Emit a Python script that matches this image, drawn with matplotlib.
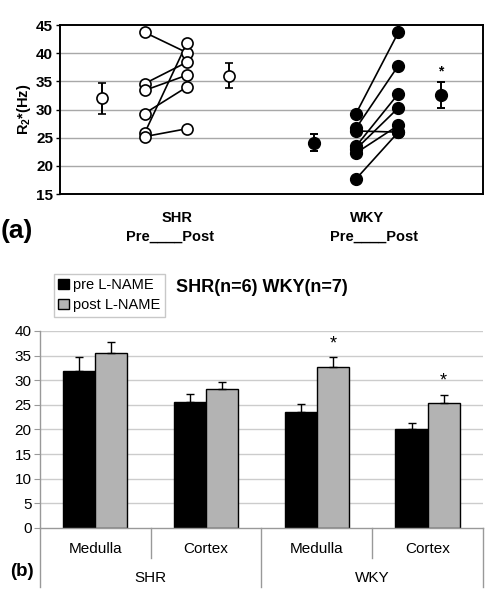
import matplotlib
matplotlib.use("Agg")
import matplotlib.pyplot as plt
import numpy as np

plt.rcParams['font.family'] = ['Liberation Sans', 'DejaVu Sans']
plt.rcParams['mathtext.fontset'] = 'custom'
plt.rcParams['mathtext.rm'] = 'Liberation Sans'
plt.rcParams['mathtext.bf'] = 'Liberation Sans:bold'

# ---- panel (a): individual R2* values, pre / post L-NAME ----
shr_pre = [43.7, 34.6, 33.4, 29.3, 25.8, 25.2]
shr_post = [40.1, 38.4, 36.1, 34.0, 41.8, 26.6]
wky_pre = [29.3, 26.7, 26.2, 23.5, 23.0, 22.3, 17.7]
wky_post = [43.7, 37.8, 26.0, 32.8, 30.3, 27.2, 26.0]

# group means +/- SEM (outer markers)
shr_mean = [32.0, 36.0]
shr_sem = [2.8, 2.2]
wky_mean = [24.1, 32.6]
wky_sem = [1.5, 2.3]

# ---- panel (b): bar chart ----
regions = ['Medulla', 'Cortex', 'Medulla', 'Cortex']
strains = ['SHR', 'WKY']
pre_vals = [31.9, 25.5, 23.6, 20.1]
pre_err = [2.8, 1.8, 1.5, 1.3]
post_vals = [35.5, 28.2, 32.6, 25.4]
post_err = [2.3, 1.5, 2.1, 1.7]
signif = [False, False, True, True]

fig = plt.figure(figsize=(4.97, 6.01), dpi=100)

# ================= (a) =================
ax1 = fig.add_axes([0.1207, 0.677, 0.851, 0.2814])
ax1.set_xlim(0, 10)
ax1.set_ylim(15, 45)
ax1.set_yticks(range(15, 46, 5))
ax1.set_xticks([])
for y in range(20, 45, 5):
    ax1.axhline(y, color='#a8a8a8', lw=1.0, zorder=0)
for s in ax1.spines.values():
    s.set_color('black')
    s.set_linewidth(1.4)
ax1.tick_params(axis='y', length=3, width=1, labelsize=11, pad=2)
for lab in ax1.get_yticklabels():
    lab.set_fontweight('bold')
ax1.set_ylabel(r'R$_{\mathbf{2}}$*(Hz)', fontsize=10.5, fontweight='bold', labelpad=2)

for a, b in zip(shr_pre, shr_post):
    ax1.plot([2, 3], [a, b], color='black', lw=1.2, zorder=2)
ax1.plot([2] * len(shr_pre), shr_pre, 'o', ms=8, mfc='white', mec='black', mew=1.2, zorder=3)
ax1.plot([3] * len(shr_post), shr_post, 'o', ms=8, mfc='white', mec='black', mew=1.2, zorder=3)
ax1.errorbar([1, 4], shr_mean, yerr=shr_sem, fmt='o', ms=8, mfc='white', mec='black', mew=1.2,
             ecolor='black', elinewidth=1.4, capsize=3, capthick=1.4, zorder=3)

for a, b in zip(wky_pre, wky_post):
    ax1.plot([7, 8], [a, b], color='black', lw=1.2, zorder=2)
ax1.plot([7] * len(wky_pre), wky_pre, 'o', ms=8.5, color='black', zorder=3)
ax1.plot([8] * len(wky_post), wky_post, 'o', ms=8.5, color='black', zorder=3)
ax1.errorbar([6, 9], wky_mean, yerr=wky_sem, fmt='o', ms=8.5, color='black',
             elinewidth=1.4, capsize=3, capthick=1.4, zorder=3)
ax1.text(9, wky_mean[1] + wky_sem[1] + 0.6, '*', ha='center', va='bottom', fontsize=10, fontweight='bold')

fig.text(177 / 497, 1 - 218 / 601, 'SHR', ha='center', va='center', fontsize=10.5, fontweight='bold')
fig.text(170 / 497, 1 - 237 / 601, 'Pre____Post', ha='center', va='center', fontsize=10.5, fontweight='bold')
fig.text(367 / 497, 1 - 218 / 601, 'WKY', ha='center', va='center', fontsize=10.5, fontweight='bold')
fig.text(374 / 497, 1 - 237 / 601, 'Pre____Post', ha='center', va='center', fontsize=10.5, fontweight='bold')
fig.text(1 / 497, 1 - 231 / 601, '(a)', ha='left', va='center', fontsize=19, fontweight='bold')

# ================= (b) =================
ax2 = fig.add_axes([0.0805, 0.1215, 0.8913, 0.3278])
x = np.arange(len(regions))
w = 0.29
ax2.set_xlim(-0.5, 3.5)
ax2.set_ylim(0, 40)
ax2.set_yticks(range(0, 41, 5))
ax2.set_xticks([])
for y in range(5, 41, 5):
    ax2.axhline(y, color='#cccccc', lw=1.0, zorder=0)
for side in ['top', 'right']:
    ax2.spines[side].set_visible(False)
for side in ['left', 'bottom']:
    ax2.spines[side].set_color('#999999')
    ax2.spines[side].set_linewidth(1.0)
ax2.tick_params(axis='y', length=4, color='#999999', labelsize=11, pad=2)

b1 = ax2.bar(x - w / 2, pre_vals, w, color='black', edgecolor='black', lw=1, label='pre L-NAME', zorder=2)
b2 = ax2.bar(x + w / 2, post_vals, w, color='#b3b3b3', edgecolor='black', lw=1, label='post L-NAME', zorder=2)
ax2.errorbar(x - w / 2, pre_vals, yerr=[np.zeros(4), pre_err], fmt='none', ecolor='black',
             elinewidth=1, capsize=3, capthick=1, zorder=3)
ax2.errorbar(x + w / 2, post_vals, yerr=[np.zeros(4), post_err], fmt='none', ecolor='black',
             elinewidth=1, capsize=3, capthick=1, zorder=3)
for i in range(len(regions)):
    if signif[i]:
        ax2.text(x[i] + w / 2, post_vals[i] + post_err[i] + 1.0, '*', ha='center', va='bottom', fontsize=13)

# category table under the axis
trans = ax2.get_xaxis_transform()
ax2.plot([-0.5, -0.5], [0, -0.30], transform=trans, color='#999999', lw=1, clip_on=False)
ax2.plot([3.5, 3.5], [0, -0.30], transform=trans, color='#999999', lw=1, clip_on=False)
ax2.plot([1.5, 1.5], [0, -0.30], transform=trans, color='#999999', lw=1, clip_on=False)
for xs in [0.5, 2.5]:
    ax2.plot([xs, xs], [0, -0.15], transform=trans, color='#999999', lw=1, clip_on=False)
for i, r in enumerate(regions):
    ax2.text(x[i], -0.107, r, transform=trans, ha='center', va='center', fontsize=11)
for j, s in enumerate(strains):
    ax2.text(0.5 + 2 * j, -0.254, s, transform=trans, ha='center', va='center', fontsize=11)
fig.text(10 / 497, 1 - 572 / 601, '(b)', ha='left', va='center', fontsize=13.5, fontweight='bold')

leg = fig.legend(handles=[b1, b2], loc='upper left', bbox_to_anchor=(54 / 497, 1 - 274 / 601),
                 fontsize=10.5, frameon=True, fancybox=False, edgecolor='#bbbbbb',
                 handlelength=0.7, handleheight=0.7, handletextpad=0.3, borderpad=0.3,
                 labelspacing=0.4, borderaxespad=0)
leg.get_frame().set_linewidth(1)
fig.text(262 / 497, 1 - 287 / 601, 'SHR(n=6) WKY(n=7)', ha='center', va='center', fontsize=13, fontweight='bold')

fig.savefig('out.png', dpi=100)
